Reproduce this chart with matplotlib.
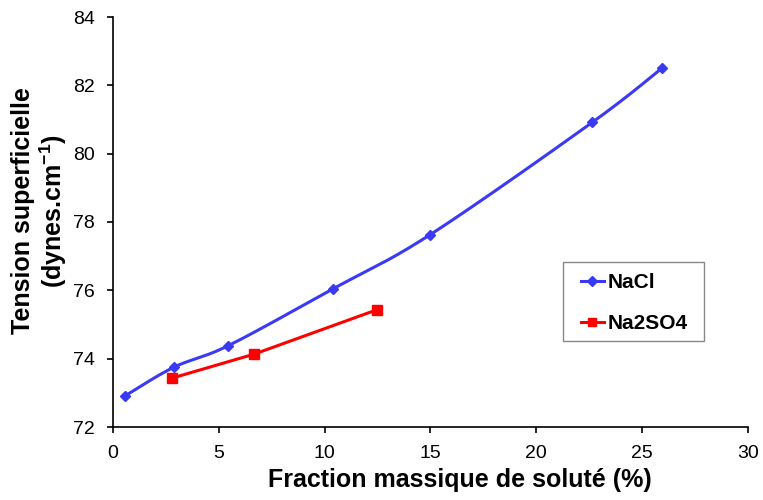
import numpy as np
import matplotlib
matplotlib.use("Agg")
import matplotlib.pyplot as plt
from matplotlib.patches import Rectangle

plt.rcParams['font.family'] = ['Liberation Sans', 'DejaVu Sans']
plt.rcParams['mathtext.default'] = 'regular'

# Surface tension vs solute mass fraction
nacl_x = [0.57, 2.88, 5.45, 10.39, 14.97, 22.66, 25.96]
nacl_y = [72.91, 73.75, 74.38, 76.04, 77.62, 80.92, 82.51]
na2so4_x = [2.79, 6.66, 12.47]
na2so4_y = [73.43, 74.13, 75.43]

xticks = [0, 5, 10, 15, 20, 25, 30]
yticks = [72, 74, 76, 78, 80, 82, 84]


def smooth(xs, ys, n=40):
    """Cardinal (Catmull-Rom style) Bezier smoothing through the points."""
    xs = np.asarray(xs, float)
    ys = np.asarray(ys, float)
    px, py = [], []
    m = len(xs)
    for i in range(m - 1):
        x0, y0 = (xs[i - 1], ys[i - 1]) if i > 0 else (xs[i], ys[i])
        x1, y1 = xs[i], ys[i]
        x2, y2 = xs[i + 1], ys[i + 1]
        x3, y3 = (xs[i + 2], ys[i + 2]) if i + 2 < m else (x2, y2)
        c1x, c1y = x1 + (x2 - x0) / 6, y1 + (y2 - y0) / 6
        c2x, c2y = x2 - (x3 - x1) / 6, y2 - (y3 - y1) / 6
        t = np.linspace(0, 1, n)
        bx = (1 - t) ** 3 * x1 + 3 * (1 - t) ** 2 * t * c1x + 3 * (1 - t) * t ** 2 * c2x + t ** 3 * x2
        by = (1 - t) ** 3 * y1 + 3 * (1 - t) ** 2 * t * c1y + 3 * (1 - t) * t ** 2 * c2y + t ** 3 * y2
        px.extend(bx)
        py.extend(by)
    return np.array(px), np.array(py)


blue = '#3A3AF4'
red = '#FF0000'

fig = plt.figure(figsize=(7.63, 5.0), dpi=100)
ax = fig.add_axes([0.148, 0.146, 0.832, 0.820])

sx, sy = smooth(nacl_x, nacl_y)
ax.plot(sx, sy, color=blue, lw=2.2, zorder=2)
ax.plot(nacl_x, nacl_y, ls='none', marker='D', ms=5, color=blue, zorder=3)
ax.plot(na2so4_x, na2so4_y, color=red, lw=2.2, marker='s', ms=7, zorder=3)

# legend: frame drawn as its own rectangle, entries placed inside it
ax.add_patch(Rectangle((0.7087, 0.2098), 0.222, 0.1926, transform=ax.transAxes,
                       facecolor='white', edgecolor='#888888', lw=1.0, zorder=4))
h1, = ax.plot([], [], color=blue, lw=2.2, marker='D', ms=5)
h2, = ax.plot([], [], color=red, lw=2.2, marker='s', ms=6)
leg = ax.legend([h1, h2], ['NaCl', 'Na2SO4'], loc='upper left',
                bbox_to_anchor=(0.737, 0.375), frameon=False,
                prop={'weight': 'bold', 'size': 15}, handlelength=1.1,
                handletextpad=0.2, labelspacing=1.04, borderpad=0,
                borderaxespad=0)
leg.set_zorder(5)

ax.set_xlim(0, 30)
ax.set_ylim(72, 84)
ax.set_xticks(xticks)
ax.set_yticks(yticks)
ax.tick_params(labelsize=14, direction='out', length=4, width=1.2, pad=9)
for s in ['top', 'right']:
    ax.spines[s].set_visible(False)
for s in ['left', 'bottom']:
    ax.spines[s].set_linewidth(1.2)

ax.set_xlabel('Fraction massique de soluté (%)', fontsize=18, fontweight='bold')
ax.xaxis.set_label_coords(0.5465, -0.100)
ax.set_ylabel('Tension superficielle\n(dynes.cm$^{-1}$)', fontsize=18, fontweight='bold',
              linespacing=1.1)
ax.yaxis.set_label_coords(-0.069, 0.527)

fig.savefig('out.png', dpi=100)
